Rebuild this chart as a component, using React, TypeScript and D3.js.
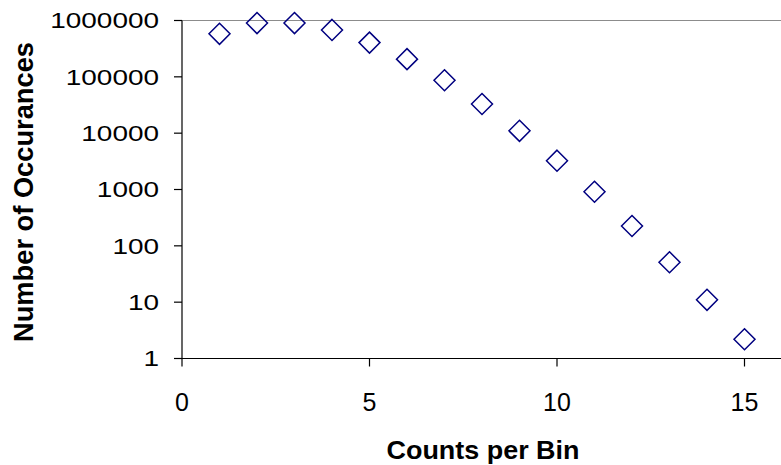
import React, { useEffect, useRef } from 'react';
import * as d3 from 'd3';

// counts per bin (x) and number of occurrences (y)
const counts = [1, 2, 3, 4, 5, 6, 7, 8, 9, 10, 11, 12, 13, 14, 15];
const occurrences = [580000, 900000, 900000, 680000, 405000, 206000, 87000, 33000, 11000, 3250, 910, 225, 51, 11, 2.2];
const xTicks = [0, 5, 10, 15];
const yTicks = [1, 10, 100, 1000, 10000, 100000, 1000000];

const W = 781;
const H = 465;

export default function App() {
  const svgRef = useRef<SVGSVGElement | null>(null);

  useEffect(() => {
    if (!svgRef.current) return;
    const svg = d3.select(svgRef.current);
    svg.selectAll('*').remove();

    const font = '"Liberation Sans", Arial, sans-serif';
    const sx = 1.3; // y tick labels look stretched sideways

    const x = d3.scaleLinear().domain([0, 16]).range([182, 782]);
    const y = d3.scaleLog().domain([1, 1000000]).range([358.5, 20.5]);

    svg.append('rect').attr('width', W).attr('height', H).attr('fill', '#fff');

    // top border / gridline
    svg.append('line')
      .attr('x1', x(0)).attr('x2', W)
      .attr('y1', y(1000000)).attr('y2', y(1000000))
      .attr('stroke', '#8c8c8c').attr('stroke-width', 1.2);

    // y axis
    const gy = svg.append('g').attr('transform', `translate(${x(0)},0)`);
    gy.append('line').attr('y1', y(1000000)).attr('y2', y(1)).attr('stroke', '#000').attr('stroke-width', 1.2);
    yTicks.forEach(t => {
      gy.append('line').attr('x1', -8).attr('x2', 0).attr('y1', y(t)).attr('y2', y(t))
        .attr('stroke', '#000').attr('stroke-width', 1.2);
      gy.append('text')
        .attr('transform', `translate(-23,${y(t) + 7.7}) scale(${sx},1)`)
        .attr('text-anchor', 'end')
        .attr('font-family', font)
        .attr('font-size', 21.5)
        .attr('fill', '#000')
        .text(String(t));
    });

    // x axis
    const gx = svg.append('g').attr('transform', `translate(0,${y(1)})`);
    gx.append('line').attr('x1', x(0)).attr('x2', W).attr('stroke', '#000').attr('stroke-width', 1.2);
    xTicks.forEach(t => {
      gx.append('line').attr('x1', x(t)).attr('x2', x(t)).attr('y1', 0).attr('y2', 8)
        .attr('stroke', '#000').attr('stroke-width', 1.2);
      gx.append('text')
        .attr('x', x(t))
        .attr('y', 52.5)
        .attr('text-anchor', 'middle')
        .attr('font-family', font)
        .attr('font-size', 25)
        .attr('fill', '#000')
        .text(String(t));
    });

    // axis titles
    svg.append('text')
      .attr('transform', `translate(483,458.5)`)
      .attr('text-anchor', 'middle')
      .attr('font-family', font)
      .attr('font-weight', 'bold')
      .attr('font-size', 25)
      .attr('textLength', 193)
      .attr('lengthAdjust', 'spacingAndGlyphs')
      .attr('fill', '#000')
      .text('Counts per Bin');

    svg.append('text')
      .attr('transform', `translate(33,192) rotate(-90)`)
      .attr('text-anchor', 'middle')
      .attr('font-family', font)
      .attr('font-weight', 'bold')
      .attr('font-size', 27)
      .attr('textLength', 300)
      .attr('lengthAdjust', 'spacingAndGlyphs')
      .attr('fill', '#000')
      .text('Number of Occurances');

    // diamond markers
    const r = 10.5;
    svg.append('g')
      .selectAll('path')
      .data(counts.map((c, i) => ({ c, v: occurrences[i] })))
      .join('path')
      .attr('d', d => {
        const cx = x(d.c), cy = y(d.v);
        return `M${cx},${cy - r}L${cx + r},${cy}L${cx},${cy + r}L${cx - r},${cy}Z`;
      })
      .attr('fill', 'none')
      .attr('stroke', '#000080')
      .attr('stroke-width', 1.5);
  }, []);

  return (
    <svg ref={svgRef} width={W} height={H}
      style={{ position: 'absolute', left: 0, top: 0, display: 'block' }} />
  );
}
